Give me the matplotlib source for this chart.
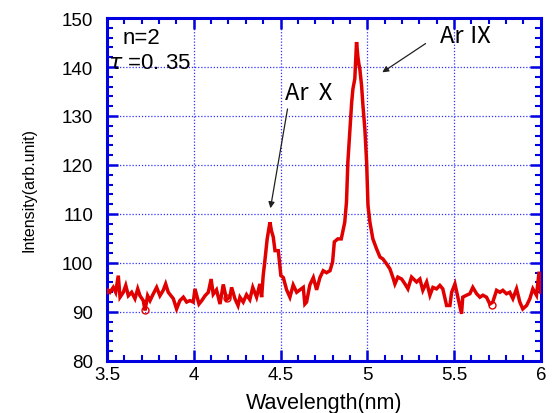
import matplotlib
matplotlib.use("Agg")
import matplotlib.pyplot as plt
from matplotlib.ticker import MultipleLocator

wavelength = [3.500, 3.507, 3.517, 3.536, 3.550, 3.565, 3.575, 3.594, 3.608, 3.623, 3.642, 3.661, 3.677,
              3.690, 3.709, 3.719, 3.734, 3.748, 3.767, 3.786, 3.805, 3.824, 3.838, 3.853, 3.869,
              3.882, 3.901, 3.920, 3.940, 3.959, 3.978, 3.997, 4.007, 4.030, 4.046, 4.065, 4.084,
              4.100, 4.112, 4.131, 4.151, 4.170, 4.189, 4.208, 4.218, 4.237, 4.255, 4.266, 4.285,
              4.304, 4.323, 4.340, 4.362, 4.381, 4.391, 4.400, 4.410, 4.423, 4.439, 4.448, 4.458,
              4.468, 4.487, 4.502, 4.516, 4.535, 4.554, 4.573, 4.593, 4.612, 4.631, 4.640, 4.650,
              4.669, 4.689, 4.708, 4.727, 4.746, 4.765, 4.785, 4.800, 4.810, 4.830, 4.850, 4.870,
              4.880, 4.888, 4.900, 4.910, 4.917, 4.928, 4.938, 4.946, 4.952, 4.957, 4.967, 4.975,
              4.986, 4.996, 5.004, 5.015, 5.032, 5.053, 5.073, 5.090, 5.111, 5.130, 5.147, 5.159,
              5.176, 5.198, 5.217, 5.234, 5.255, 5.284, 5.303, 5.320, 5.342, 5.361, 5.378, 5.399,
              5.418, 5.435, 5.457, 5.476, 5.486, 5.505, 5.522, 5.543, 5.550, 5.572, 5.591, 5.608,
              5.630, 5.649, 5.666, 5.687, 5.706, 5.723, 5.745, 5.764, 5.781, 5.802, 5.821, 5.839,
              5.860, 5.879, 5.896, 5.918, 5.937, 5.954, 5.975, 5.990, 6.000]
intensity = [94.0, 94.4, 94.0, 95.0, 94.0, 97.4, 93.0, 94.0, 95.4, 93.3, 94.0, 92.7, 94.7,
             93.3, 92.3, 90.3, 93.3, 92.3, 93.7, 95.0, 93.3, 94.4, 95.7, 94.0, 93.3,
             92.7, 90.6, 92.3, 93.0, 92.0, 92.3, 92.0, 94.7, 91.6, 92.3, 93.3, 94.0,
             96.7, 93.6, 94.5, 91.6, 95.6, 92.5, 93.0, 95.0, 92.7, 91.3, 93.0, 92.0,
             93.5, 92.5, 95.0, 93.0, 95.7, 93.0, 97.4, 100.5, 104.9, 108.3, 106.5, 105.3,
             102.5, 102.5, 97.4, 97.0, 94.5, 93.0, 95.5, 94.0, 94.5, 95.0, 91.6, 92.0,
             95.5, 97.0, 94.5, 97.0, 98.4, 98.0, 98.4, 100.2, 104.3, 104.9, 104.9, 108.3,
             112.4, 120.6, 127.3, 132.8, 135.5, 137.6, 145.1, 142.0, 140.5, 139.6, 136.2, 132.1,
             127.3, 120.6, 111.7, 108.3, 104.9, 102.9, 101.2, 100.8, 99.8, 98.8, 97.1, 95.7,
             97.1, 96.7, 95.7, 94.7, 97.1, 96.1, 96.7, 94.4, 96.1, 93.4, 95.0, 94.7,
             95.4, 94.7, 91.3, 91.3, 94.0, 95.7, 93.0, 89.6, 93.0, 93.4, 93.7, 95.0,
             93.7, 93.0, 93.4, 93.0, 91.6, 92.0, 94.4, 94.0, 94.4, 93.7, 94.0, 92.7,
             94.7, 92.0, 90.6, 91.3, 92.7, 94.7, 93.4, 98.2, 94.0]

circle_x = [3.72, 4.19, 5.72]
circle_y = [90.3, 92.9, 91.3]

x_ticks = [3.5, 4, 4.5, 5, 5.5, 6]
x_ticklabels = ["3.5", "4", "4.5", "5", "5.5", "6"]
y_ticks = [80, 90, 100, 110, 120, 130, 140, 150]

blue = "#0000e0"
red = "#e00000"

plt.rcParams['font.family'] = ['Liberation Sans', 'DejaVu Sans']

fig = plt.figure(figsize=(5.53, 4.14), dpi=100)
ax = fig.add_axes([0.1935, 0.126, 0.7845, 0.828])

ax.plot(wavelength, intensity, color=red, lw=2.5, zorder=3, solid_joinstyle='miter')
ax.plot(circle_x, circle_y, 'o', mfc='none', mec=red, ms=5, mew=1.0, zorder=3)

ax.set_xlim(3.5, 6.0)
ax.set_ylim(80, 150)
ax.set_xticks(x_ticks)
ax.set_xticklabels(x_ticklabels)
ax.set_yticks(y_ticks)
ax.xaxis.set_minor_locator(MultipleLocator(0.1))
ax.yaxis.set_minor_locator(MultipleLocator(2))

ax.grid(True, which='major', color='#3030ff', linestyle=(0, (1, 1.5)), linewidth=0.9)

for s in ax.spines.values():
    s.set_color(blue)
    s.set_linewidth(2.2)

ax.tick_params(which='both', direction='in', top=True, right=True, color=blue, labelsize=13.5,
               labelcolor='black')
ax.tick_params(which='major', length=8, width=1.8)
ax.tick_params(axis='y', which='major', pad=10)
ax.tick_params(axis='x', which='major', pad=4)
ax.tick_params(which='minor', length=4.5, width=1.5)

ax.set_xlabel("Wavelength(nm)", fontsize=15.5, labelpad=6)
ax.set_ylabel("Intensity(arb.unit)", fontsize=11.5, labelpad=18)

ax.text(3.59, 146.0, "n=2", fontsize=16, va='center', ha='left')
ax.text(3.505, 141.0, r"$\tau$ =0. 35", fontsize=16, va='center', ha='left')

rn = ['Noto Sans CJK JP', 'DejaVu Sans']
ax.text(4.525, 134.8, "Ar Ⅹ", fontsize=17, va='center', ha='left', family=rn)
ax.text(5.42, 146.4, "Ar Ⅸ", fontsize=17, va='center', ha='left', family=rn)

ax.annotate("", xy=(4.439, 110.6), xytext=(4.543, 132.0),
            arrowprops=dict(arrowstyle='-|>', color='#202020', lw=0.9, mutation_scale=9))
ax.annotate("", xy=(5.073, 138.6), xytext=(5.349, 145.1),
            arrowprops=dict(arrowstyle='-|>', color='#202020', lw=0.9, mutation_scale=9))

fig.savefig("out.png", dpi=100)
